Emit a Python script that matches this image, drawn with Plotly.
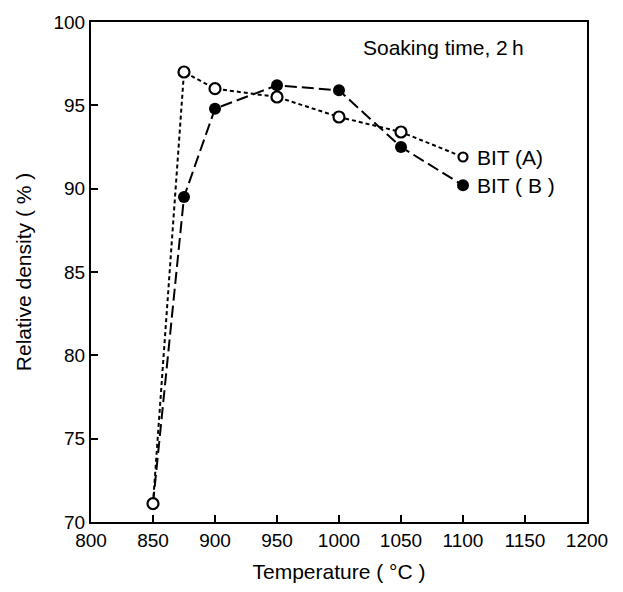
import plotly.graph_objects as go

temps_a = [850, 875, 900, 950, 1000, 1050, 1100]
dens_a = [71.1, 97.0, 96.0, 95.5, 94.3, 93.4, 91.9]

temps_b = [850, 875, 900, 950, 1000, 1050, 1100]
dens_b = [71.1, 89.5, 94.8, 96.2, 95.9, 92.5, 90.2]

x_ticks = [800, 850, 900, 950, 1000, 1050, 1100, 1150, 1200]
y_ticks = [70, 75, 80, 85, 90, 95, 100]

FONT = "Liberation Sans, Arial, sans-serif"

fig = go.Figure()

fig.add_trace(go.Scatter(
    x=temps_b, y=dens_b, mode="lines+markers", name="BIT (B)",
    line=dict(color="black", width=2, dash="12px,5px"),
    marker=dict(symbol="circle", size=[0, 12, 12, 12, 12, 12, 12], color="black",
                opacity=1, line=dict(width=0)),
))
fig.add_trace(go.Scatter(
    x=temps_a, y=dens_a, mode="lines+markers", name="BIT (A)",
    line=dict(color="black", width=2, dash="4px,3px"),
    marker=dict(symbol="circle", size=[11, 11, 11, 11, 11, 11, 9], color="white",
                opacity=1, line=dict(color="black", width=2.2)),
))

fig.add_annotation(x=temps_a[-1], y=dens_a[-1], text="BIT (A)", showarrow=False,
                   xanchor="left", xshift=12, font=dict(size=21, color="black", family=FONT))
fig.add_annotation(x=temps_b[-1], y=dens_b[-1], text="BIT ( B )", showarrow=False,
                   xanchor="left", xshift=12, font=dict(size=21, color="black", family=FONT))
fig.add_annotation(x=1084, y=98.45, text="Soaking time, 2\u2009h", showarrow=False,
                   xanchor="center", font=dict(size=21, color="black", family=FONT))

fig.update_layout(
    width=623, height=592,
    margin=dict(l=91, r=36, t=16, b=69),
    plot_bgcolor="white", paper_bgcolor="white",
    showlegend=False,
    font=dict(family=FONT, size=19, color="black"),
)
fig.update_xaxes(
    range=[800, 1200], tickvals=x_ticks, ticktext=[str(v) for v in x_ticks],
    showgrid=False, zeroline=False,
    showline=True, linecolor="black", linewidth=2, mirror=True,
    ticks="inside", ticklen=7, tickwidth=1.5, tickcolor="black",
    title=dict(text="Temperature ( \u00b0C )", standoff=15, font=dict(size=21)),
    tickfont=dict(size=19),
)
fig.update_yaxes(
    range=[70, 100], tickvals=y_ticks, ticktext=[str(v) for v in y_ticks],
    showgrid=False, zeroline=False,
    showline=True, linecolor="black", linewidth=2, mirror=True,
    ticks="inside", ticklen=7, tickwidth=1.5, tickcolor="black",
    title=dict(text="Relative density ( % )", standoff=16, font=dict(size=21)),
    tickfont=dict(size=19),
)

fig.write_html("out.html")
